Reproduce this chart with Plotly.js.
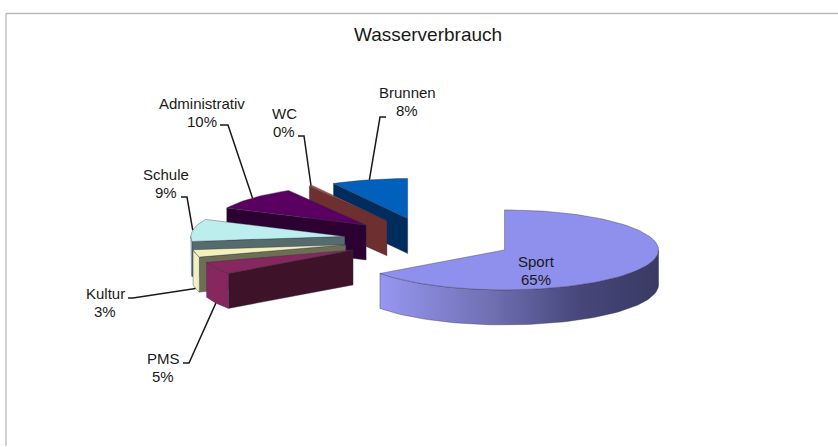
<!DOCTYPE html>
<html>
<head>
<meta charset="utf-8">
<script src="https://cdn.plot.ly/plotly-3.0.1.min.js"></script>
<style>html,body{margin:0;padding:0;background:#fff}#chart{width:838px;height:447px}</style>
</head>
<body>
<div id="chart"></div>
<script>
// Data, clockwise from 12 o'clock
const categories = ["Sport", "PMS", "Kultur", "Schule", "Administrativ", "WC", "Brunnen"];
const shares = [65, 5, 3, 9, 9.6, 0.4, 8];
const percentLabels = ["65%", "5%", "3%", "9%", "10%", "0%", "8%"];

// Slice colours
const topColors = ["#8f8fee", "#86285f", "#f3f1bd", "#bdeeee", "#5a0060", "#b24a48", "#0060bb"];
const cutColors = ["#3a3a66", "#3e1329", "#6e6e54", "#566b6d", "#2c0030", "#6e302e", "#002c5e"];
const rimColors = ["#8f8fee", "#86285f", "#f1f0c2", "#bfdfe0", "#5a0060", "#b24a48", "#0060bb"];

// Pie geometry on the pixel-scaled axes
const centre = {x: 428.8, y: 239.9};
const radiusX = 154, radiusY = 40, depth = 35, explosion = 0.552;

// Label placement per category: text centre, leader elbow start and elbow end
const labelPos = [[536, 270], [163, 367], [105, 302], [166, 183], [202, 112], [284, 122], [407, 101]];
const elbows = [null, [[183, 363], [189, 363]], [[128, 298], [133, 298]], [[181, 197], [187, 197]],
                [[220, 125], [228, 125]], [[298, 136], [304, 136]], [[386, 117], [380, 117]]];

const total = shares.reduce((a, b) => a + b, 0);
const rad = d => d * Math.PI / 180;
const traces = [];
const annotations = [];
const labelFont = {family: "Liberation Sans, Arial, sans-serif", size: 15, color: "#1a1a1a"};

function poly(xs, ys, fill, gradient) {
  const t = {
    x: xs, y: ys, type: "scatter", mode: "lines", fill: "toself", fillcolor: fill,
    line: {color: "rgba(50,50,70,0.55)", width: 0.7}, hoverinfo: "skip", showlegend: false
  };
  if (gradient) t.fillgradient = gradient;
  traces.push(t);
}

// cumulative slice angles
let acc = 0;
const slices = shares.map((v, i) => {
  const s = acc / total * 360; acc += v;
  const e = acc / total * 360;
  const m = (s + e) / 2;
  return {
    i, s, e, m,
    ax: centre.x + explosion * radiusX * Math.sin(rad(m)),
    ay: centre.y - explosion * radiusY * Math.cos(rad(m))
  };
});
const rim = (sl, a, dz) => [sl.ax + radiusX * Math.sin(rad(a)), sl.ay - radiusY * Math.cos(rad(a)) + dz];

// painter's order: back to front
[6, 5, 4, 3, 2, 1, 0].forEach(idx => {
  const sl = slices[idx];
  // radial cut face
  if (sl.s >= 180) {
    const p = rim(sl, sl.s, 0);
    poly([sl.ax, p[0], p[0], sl.ax, sl.ax], [sl.ay, p[1], p[1] + depth, sl.ay + depth, sl.ay], cutColors[idx]);
  }
  // outer rim face
  const a0 = Math.max(sl.s, 90), a1 = Math.min(sl.e, 270);
  if (a1 > a0) {
    const xs = [], ys = [], xb = [], yb = [];
    const steps = Math.max(4, Math.ceil((a1 - a0) / 2));
    for (let k = 0; k <= steps; k++) {
      const a = a0 + (a1 - a0) * k / steps;
      const p = rim(sl, a, 0);
      xs.push(p[0]); ys.push(p[1]); xb.unshift(p[0]); yb.unshift(p[1] + depth);
    }
    const gradient = idx === 0 ? {
      type: "horizontal",
      colorscale: [[0, "#9797f2"], [0.4, "#6f6fb2"], [0.72, "#46467a"], [1, "#3a3a64"]]
    } : null;
    poly(xs.concat(xb, [xs[0]]), ys.concat(yb, [ys[0]]), rimColors[idx], gradient);
  }
  // top face
  const tx = [sl.ax], ty = [sl.ay];
  const steps = Math.max(2, Math.ceil((sl.e - sl.s) / 2));
  for (let k = 0; k <= steps; k++) {
    const p = rim(sl, sl.s + (sl.e - sl.s) * k / steps, 0);
    tx.push(p[0]); ty.push(p[1]);
  }
  tx.push(sl.ax); ty.push(sl.ay);
  poly(tx, ty, topColors[idx]);
});

// labels and leader lines
categories.forEach((c, i) => {
  [c, percentLabels[i]].forEach((line, k) => {
    annotations.push({
      x: labelPos[i][0], y: labelPos[i][1] + (k === 0 ? -9 : 9), xref: "x", yref: "y",
      xanchor: "center", yanchor: "middle", text: line, showarrow: false, font: labelFont
    });
  });
  if (elbows[i]) {
    const sl = slices[i];
    const end = rim(sl, sl.m, Math.cos(rad(sl.m)) < 0 ? depth : 0);
    traces.push({
      x: [elbows[i][0][0], elbows[i][1][0], end[0]],
      y: [elbows[i][0][1], elbows[i][1][1], end[1]],
      type: "scatter", mode: "lines", line: {color: "#1a1a1a", width: 1.5},
      hoverinfo: "skip", showlegend: false
    });
  }
});

const layout = {
  width: 838, height: 447,
  margin: {l: 0, r: 0, t: 0, b: 0},
  paper_bgcolor: "#ffffff", plot_bgcolor: "#ffffff",
  showlegend: false,
  title: {text: "Wasserverbrauch", x: 428 / 838, xanchor: "center", y: 1 - 34 / 447, yanchor: "middle",
          font: {family: "Liberation Sans, Arial, sans-serif", size: 19, color: "#1a1a1a"}},
  xaxis: {range: [0, 838], visible: false, fixedrange: true},
  yaxis: {range: [447, 0], visible: false, fixedrange: true},
  shapes: [
    {type: "line", xref: "x", yref: "y", x0: 6, x1: 838, y0: 13.5, y1: 13.5, line: {color: "#b8b8b8", width: 1.3}},
    {type: "line", xref: "x", yref: "y", x0: 6, x1: 6, y0: 13.5, y1: 446, line: {color: "#b8b8b8", width: 1.3}}
  ],
  annotations
};
Plotly.newPlot("chart", traces, layout, {displayModeBar: false, staticPlot: true});
</script>
</body>
</html>
